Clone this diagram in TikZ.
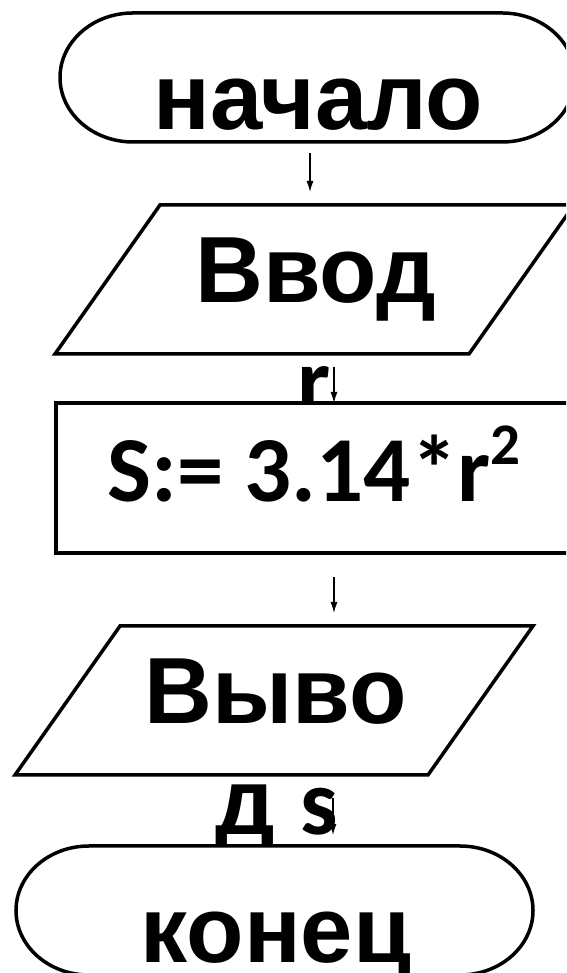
\documentclass[tikz,border=0pt]{standalone}
\usepackage{fontspec}
\setmainfont{Liberation Sans}
\newfontfamily\calib{Carlito}
\usetikzlibrary{arrows.meta}
\begin{document}
\begin{tikzpicture}[x=1pt,y=1pt,
  shapeline/.style={line width=3.5pt, line join=miter, fill=white},
  flowarrow/.style={line width=1.3pt, -{Latex[length=11pt,width=7pt]}},
  arialtext/.style={font=\fontsize{94}{94}\selectfont\bfseries, inner sep=0pt, anchor=base},
  calibtext/.style={font=\calib\fontsize{93}{93}\selectfont\bfseries, inner sep=0pt, anchor=base}]
\useasboundingbox (0,0) rectangle (566,973);
\clip (0,0) rectangle (566,973);
% start terminator
\draw[shapeline] (133,960) -- (502,960) arc[start angle=90, end angle=-90, x radius=73, y radius=64.5]
  -- (133,831) arc[start angle=270, end angle=90, x radius=73, y radius=64.5] -- cycle;
\node[arialtext] (start) at (318.5,843) {начало};
\coordinate (a1s) at (310,820);
\coordinate (a1e) at (310,781);
\draw[flowarrow] (a1s) -- (a1e);
% input parallelogram
\draw[shapeline] (55,619) -- (469,619) -- (574,768) -- (160,768) -- cycle;
\node[arialtext] (input) at (315.5,670) {Ввод};
\node[calibtext] (inputvar) at (314,560) {r};
\coordinate (a2s) at (334,606);
\coordinate (a2e) at (334,570);
\draw[flowarrow] (a2s) -- (a2e);
% process rectangle
\draw[shapeline] (56,420) rectangle (572,570);
\node[calibtext] (calc) at (314,471) {S:= 3.14*r\raisebox{37pt}{\fontsize{59}{59}\selectfont 2}};
\coordinate (a3s) at (334,396);
\coordinate (a3e) at (334,360);
\draw[flowarrow] (a3s) -- (a3e);
% output parallelogram
\draw[shapeline] (15,198) -- (428,198) -- (533,347) -- (120,347) -- cycle;
\node[arialtext] (output) at (275.5,249) {Выво};
\node[arialtext, anchor=base west] (outputvar) at (215,138) {д {\calib s}};
\coordinate (a4s) at (333,175);
\coordinate (a4e) at (333,138);
\draw[flowarrow] (a4s) -- (a4e);
% end terminator
\draw[shapeline] (89,127) -- (460,127) arc[start angle=90, end angle=-90, x radius=73, y radius=64.5]
  -- (89,-2) arc[start angle=270, end angle=90, x radius=73, y radius=64.5] -- cycle;
\node[arialtext] (stop) at (276,10) {конец};
\end{tikzpicture}
\end{document}
